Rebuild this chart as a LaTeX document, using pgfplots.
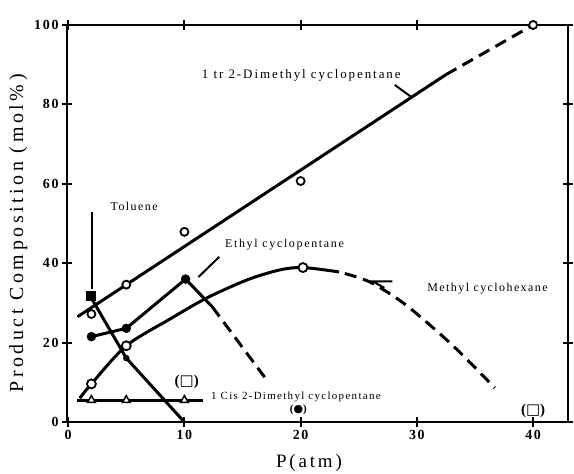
\documentclass[border=0pt]{standalone}
\usepackage{pgfplots}
\pgfplotsset{compat=1.18}
\usepackage{fontspec}
\setmainfont{Liberation Serif}[LetterSpace=12]
\newfontfamily\dejavu{DejaVu Sans}
\begin{document}
\begin{tikzpicture}
\begin{axis}[
  at={(0,0)}, anchor=south west,
  scale only axis, width=501bp, height=397bp,
  xmin=-0.1, xmax=43, ymin=0, ymax=100,
  xtick={0,10,20,30,40}, ytick={0,20,40,60,80,100},
  yticklabels={0,20,40,60,80,100},
  tick align=center, major tick length=10bp,
  axis line style={line width=2.5bp},
  tick style={line width=2bp, black},
  ticklabel style={font=\bfseries\fontsize{14}{14}\selectfont},
  /pgf/number format/assume math mode=true,
  xlabel={P(atm)}, ylabel={Product Composition (mol\%)},
  xlabel style={font=\fontsize{19}{19}\selectfont\addfontfeature{LetterSpace=15}, at={(axis description cs:0.483,-0.103)}, anchor=center},
  ylabel style={font=\fontsize{20}{20}\selectfont\addfontfeature{LetterSpace=18}, at={(axis description cs:-0.097,0.475)}, anchor=center},
  clip=false,
]
% 1 tr 2-Dimethyl cyclopentane
\addplot[black, line width=3bp] coordinates {(0.8,26.5) (32.5,87.5)};
\addplot[black, line width=3bp, dash pattern=on 12bp off 7bp] coordinates {(32.5,87.5) (40,100)};
\addplot[black, line width=2bp] coordinates {(28.1,84.9) (29.5,81.9)};
% Methyl cyclohexane
\addplot[black, line width=3bp, smooth] coordinates {(1,6) (2,9.6) (5,19.2) (8.8,26) (11.9,31.2) (15.4,35.8) (18.2,38.3) (20.2,38.9) (23.3,37.8)};
\addplot[black, line width=3bp, smooth, dash pattern=on 12bp off 7bp] coordinates {(23.8,37.4) (26,35.2) (29,29.6) (33,19.5) (36.7,8.6)};
\addplot[black, line width=2bp] coordinates {(27.9,35.4) (26.2,35.4) (27.2,33.8)};
% Ethyl cyclopentane
\addplot[black, line width=3bp] coordinates {(2,21.5) (5,23.6) (10.1,36) (12.4,29)};
\addplot[black, line width=3bp, dash pattern=on 12bp off 7bp] coordinates {(12.4,29) (16.9,11.3)};
\addplot[black, line width=2bp] coordinates {(11.2,36.5) (13,41.6)};
% Toluene
\addplot[black, line width=3bp] coordinates {(1.9,31.7) (5,16.1) (9.9,0.3)};
\addplot[black, line width=2bp] coordinates {(2.06,53) (2.06,33.5)};
% Cis 1,2-Dimethyl cyclopentane
\addplot[black, line width=3bp] coordinates {(0.8,5.5) (11.6,5.5)};
% markers
\addplot[only marks, mark=*, mark size=4bp, mark options={fill=white, draw=black, line width=1.8bp}] coordinates {(2,27.2) (5,34.6) (10,47.9) (20,60.7) (40,100)};
\addplot[only marks, mark=*, mark size=4.5bp, mark options={fill=white, draw=black, line width=1.8bp}] coordinates {(2,9.6) (5,19.2) (20.2,38.9)};
\addplot[only marks, mark=*, mark size=4.5bp, mark options={fill=black, draw=black}] coordinates {(2,21.5) (5,23.6) (10.1,36)};
\addplot[only marks, mark=square*, mark size=4.5bp, mark options={fill=black, draw=black}] coordinates {(1.9,31.7)};
\addplot[only marks, mark=*, mark size=3bp, mark options={fill=black, draw=black}] coordinates {(5,16.1)};
\addplot[only marks, mark=triangle*, mark size=4.5bp, mark options={fill=white, draw=black, line width=1.5bp}] coordinates {(2,5.5) (5,5.5) (10,5.5)};
% labels
\node[anchor=west, font=\fontsize{13}{13}\selectfont\addfontfeature{LetterSpace=15}] at (axis cs:11.2,87.4) {1 tr 2-Dimethyl cyclopentane};
\node[anchor=west, font=\fontsize{12}{12}\selectfont] at (axis cs:3.35,54.2) {Toluene};
\node[anchor=west, font=\fontsize{12}{12}\selectfont\addfontfeature{LetterSpace=14}] at (axis cs:13.2,44.6) {Ethyl cyclopentane};
\node[anchor=west, font=\fontsize{12}{12}\selectfont] at (axis cs:30.6,33.7) {Methyl cyclohexane};
\node[anchor=west, font=\fontsize{11}{11}\selectfont] at (axis cs:12.0,6.3) {1 Cis 2-Dimethyl cyclopentane};
\node[font=\bfseries\fontsize{15}{15}\selectfont] at (axis cs:10.2,10.2) {({\dejavu\bfseries □})};
\node[font=\bfseries\fontsize{15}{15}\selectfont] at (axis cs:40,2.7) {({\dejavu\bfseries □})};
\node[font=\bfseries\fontsize{11}{11}\selectfont] at (axis cs:19.8,3) {({\dejavu ●})};
\end{axis}
\pgfresetboundingbox
\path (-67bp,-52bp) rectangle (507bp,422bp);
\end{tikzpicture}
\end{document}
